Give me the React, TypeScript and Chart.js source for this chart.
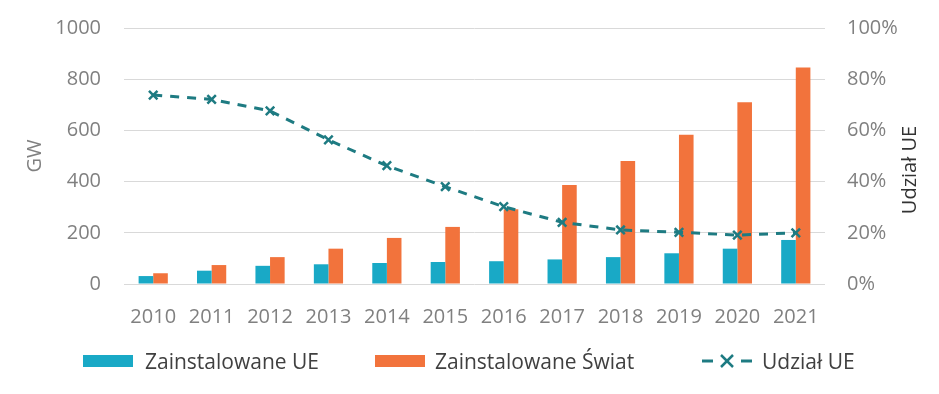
import React, { useEffect, useRef } from 'react';
import { Chart, registerables } from 'chart.js';

Chart.register(...registerables);

const years = ['2010', '2011', '2012', '2013', '2014', '2015', '2016', '2017', '2018', '2019', '2020', '2021'];
const installedEU = [31, 52, 71, 77, 82, 86, 89, 96, 105, 120, 138, 172];
const installedWorld = [42, 74, 105, 138, 180, 223, 292, 387, 480, 583, 710, 846];
const shareEU = [73.8, 72.1, 67.6, 56.3, 46.2, 38.0, 30.2, 24.1, 21.1, 20.2, 19.1, 20.0];

const labelEU = 'Zainstalowane UE';
const labelWorld = 'Zainstalowane Świat';
const labelShare = 'Udział UE';
const leftTitle = 'GW';

const COLOR_EU = '#19A9C6';
const COLOR_WORLD = '#F2733C';
const COLOR_LINE = '#1E7B82';
const TICK = '#808080';
const FONT = "'Open Sans', sans-serif";

const rightTitlePlugin = {
  id: 'rightTitle',
  afterDraw(chart: any) {
    const ctx = chart.ctx;
    ctx.save();
    ctx.translate(910, 170);
    ctx.rotate(-Math.PI / 2);
    ctx.font = `20px ${FONT}`;
    ctx.fillStyle = '#333333';
    ctx.textAlign = 'center';
    ctx.textBaseline = 'middle';
    ctx.fillText(labelShare, 0, 0);
    ctx.restore();
  },
};

export default function App() {
  const ref = useRef<HTMLCanvasElement | null>(null);

  useEffect(() => {
    if (!ref.current) return;
    const chart = new Chart(ref.current, {
      type: 'bar',
      data: {
        labels: years,
        datasets: [
          {
            type: 'line',
            label: labelShare,
            data: shareEU,
            yAxisID: 'y1',
            borderColor: COLOR_LINE,
            backgroundColor: COLOR_LINE,
            borderWidth: 3,
            borderDash: [9, 8],
            pointStyle: 'crossRot',
            pointRadius: 6,
            pointBorderWidth: 2.5,
            pointBorderColor: COLOR_LINE,
            tension: 0,
            fill: false,
            order: 0,
          } as any,
          {
            type: 'bar',
            label: labelEU,
            data: installedEU,
            yAxisID: 'y',
            backgroundColor: COLOR_EU,
            categoryPercentage: 0.5,
            barPercentage: 1.0,
            order: 1,
          },
          {
            type: 'bar',
            label: labelWorld,
            data: installedWorld,
            yAxisID: 'y',
            backgroundColor: COLOR_WORLD,
            categoryPercentage: 0.5,
            barPercentage: 1.0,
            order: 1,
          },
        ],
      },
      options: {
        responsive: false,
        animation: false,
        devicePixelRatio: 1,
        layout: { autoPadding: false, padding: { top: 28, right: 0, bottom: 50, left: 0 } },
        plugins: {
          legend: { display: false },
          tooltip: { enabled: false },
        },
        scales: {
          x: {
            grid: { display: false },
            border: { display: false },
            ticks: { color: TICK, font: { family: FONT, size: 20 }, padding: 13 },
            afterFit: (s: any) => { s.height = 60; s.paddingLeft = 0; s.paddingRight = 0; },
          },
          y: {
            position: 'left',
            min: 0,
            max: 1000,
            ticks: { stepSize: 200, color: TICK, font: { family: FONT, size: 20 }, padding: 23, callback: (v: any) => String(v) },
            grid: { color: '#D9D9D9', lineWidth: 1, drawTicks: false },
            border: { display: false },
            title: { display: true, text: leftTitle, color: TICK, font: { family: FONT, size: 20 }, padding: { top: 23, bottom: 0 } },
            afterFit: (s: any) => { s.width = 124; s.paddingTop = 0; s.paddingBottom = 0; },
          },
          y1: {
            position: 'right',
            min: 0,
            max: 100,
            ticks: { stepSize: 20, color: TICK, font: { family: FONT, size: 20 }, padding: 22, callback: (v: any) => v + '%' },
            grid: { display: false, drawTicks: false },
            border: { display: false },
            afterFit: (s: any) => { s.width = 114; s.paddingTop = 0; s.paddingBottom = 0; },
          },
        },
      },
      plugins: [rightTitlePlugin],
    });
    return () => chart.destroy();
  }, []);

  const textStyle: React.CSSProperties = {
    position: 'absolute',
    font: `21px ${FONT}`,
    color: '#404040',
    lineHeight: '24px',
    top: 349,
    whiteSpace: 'nowrap',
  };
  const box = (left: number, color: string): React.CSSProperties => ({
    position: 'absolute', left, top: 355, width: 50, height: 12, background: color,
  });

  return (
    <div style={{ position: 'absolute', left: 0, top: 0, width: 939, height: 394, background: '#ffffff' }}>
      <canvas ref={ref} width={939} height={394} style={{ position: 'absolute', left: 0, top: 0 }} />
      <div style={box(83, COLOR_EU)} />
      <div style={{ ...textStyle, left: 145 }}>{labelEU}</div>
      <div style={box(375, COLOR_WORLD)} />
      <div style={{ ...textStyle, left: 435 }}>{labelWorld}</div>
      <svg style={{ position: 'absolute', left: 702, top: 353 }} width={50} height={16}>
        <line x1={0} y1={8} x2={11} y2={8} stroke={COLOR_LINE} strokeWidth={3} />
        <line x1={39} y1={8} x2={50} y2={8} stroke={COLOR_LINE} strokeWidth={3} />
        <line x1={19} y1={2} x2={31} y2={14} stroke={COLOR_LINE} strokeWidth={2.5} />
        <line x1={31} y1={2} x2={19} y2={14} stroke={COLOR_LINE} strokeWidth={2.5} />
      </svg>
      <div style={{ ...textStyle, left: 762 }}>{labelShare}</div>
    </div>
  );
}
